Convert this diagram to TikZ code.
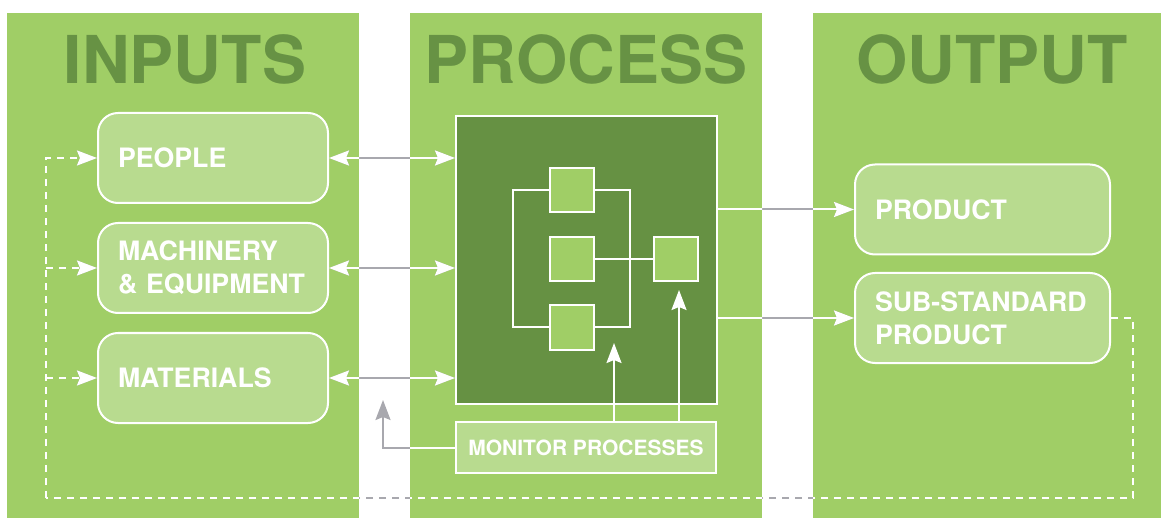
\documentclass[tikz,border=0pt]{standalone}
\usepackage{fontspec}
\setmainfont{TeX Gyre Heros}
\usetikzlibrary{arrows.meta}
\definecolor{panel}{HTML}{A0CE66}
\definecolor{headgreen}{HTML}{679244}
\definecolor{boxfill}{HTML}{B8DB8F}
\definecolor{procfill}{HTML}{669143}
\definecolor{wiregray}{HTML}{A8A8AE}
\tikzset{
  panelbox/.style={fill=panel, draw=none},
  heading/.style={text=headgreen, anchor=base, inner sep=0pt,
    font=\bfseries\fontsize{66}{66}\selectfont},
  roundbox/.style={draw=white, line width=2pt, fill=boxfill, rounded corners=20pt,
    minimum height=90pt, inner xsep=20pt, align=left, text=white,
    font=\bfseries\fontsize{26.7}{33}\selectfont},
  inbox/.style={roundbox, minimum width=230pt, text width=190pt},
  outbox/.style={roundbox, minimum width=255pt, text width=215pt},
  procbox/.style={draw=white, line width=2pt, fill=procfill,
    minimum width=261pt, minimum height=288pt},
  stepsq/.style={draw=white, line width=2pt, fill=panel,
    minimum width=44pt, minimum height=44pt, inner sep=0pt},
  monbox/.style={draw=white, line width=2pt, fill=boxfill,
    minimum width=260pt, minimum height=51pt, text=white,
    font=\bfseries\fontsize{21}{21}\selectfont},
  link/.style={line width=2pt},
  feedback/.style={line width=1.8pt, dash pattern=on 7pt off 6pt},
  >={Stealth[length=20pt,width=15pt,inset=3pt]}
}
% connectors that run across the white gaps between the panels
\newcommand\crosslinks{%
  \draw[link,<->] (people.east) -- (people.east -| proc.west);
  \draw[link,<->] (mach.east) -- (mach.east -| proc.west);
  \draw[link,<->] (mat.east) -- (mat.east -| proc.west);
  \draw[link,->] (proc.east |- prod.west) -- (prod.west);
  \draw[link,->] (proc.east |- sub.west) -- (sub.west);
  \draw[link,->] (mon.west) -| (fbm);
  \draw[feedback] (sub.east) -| (fbR) -- (fbL);
  \draw[feedback,->] (fbL) |- (people.west);
  \draw[feedback,->] (fbL |- mach.west) -- (mach.west);
  \draw[feedback,->] (fbL |- mat.west) -- (mat.west);
}
\begin{document}
\begin{tikzpicture}[x=1pt, y=-1pt]
\useasboundingbox (0,0) rectangle (1161,518);

% three column panels
\fill[panelbox] (7,13) rectangle (359,518);
\fill[panelbox] (410,13) rectangle (762,518);
\fill[panelbox] (813,13) rectangle (1161,518);

% headings
\node[heading] (hin) at (185,84) {INPUTS};
\node[heading] (hproc) at (586,84) {PROCESS};
\node[heading] (hout) at (992,84) {OUTPUT};

% inputs
\node[inbox] (people) at (213,158) {PEOPLE};
\node[inbox] (mach) at (213,268) {MACHINERY\\\& EQUIPMENT};
\node[inbox] (mat) at (213,378) {MATERIALS};

% process block
\node[procbox] (proc) at (586.5,260) {};
\node[stepsq] (s1) at (572,190) {};
\node[stepsq] (s2) at (572,259) {};
\node[stepsq] (s3) at (572,327.5) {};
\node[stepsq] (s4) at (675.5,259) {};
\draw[link, white] (s1.west) -- ++(-36,0) |- (s3.west);
\draw[link, white] (s1.east) -- ++(35,0) |- (s3.east);
\draw[link, white] (s2.east) -- (s4.west);

\node[monbox] (mon) at (586,447.5) {MONITOR PROCESSES};
\coordinate (t1) at (614,343);
\coordinate (t2) at (679,290);
\draw[link, white, ->] (t1 |- mon.north) -- (t1);
\draw[link, white, ->] (t2 |- mon.north) -- (t2);

% outputs
\node[outbox] (prod) at (982.5,209.5) {PRODUCT};
\node[outbox] (sub) at (982.5,318) {SUB-STANDARD\\PRODUCT};

% corner points of the feedback loops
\coordinate (fbm) at (383,400);
\coordinate (fbR) at (1133,498);
\coordinate (fbL) at (46,498);

% grey where they cross the gaps, white over the panels
\begin{scope}[wiregray]
  \crosslinks
\end{scope}
\begin{scope}
  \clip (7,13) rectangle (359,518) (410,13) rectangle (762,518) (813,13) rectangle (1161,518);
  \begin{scope}[white]
    \crosslinks
  \end{scope}
\end{scope}
\end{tikzpicture}
\end{document}
